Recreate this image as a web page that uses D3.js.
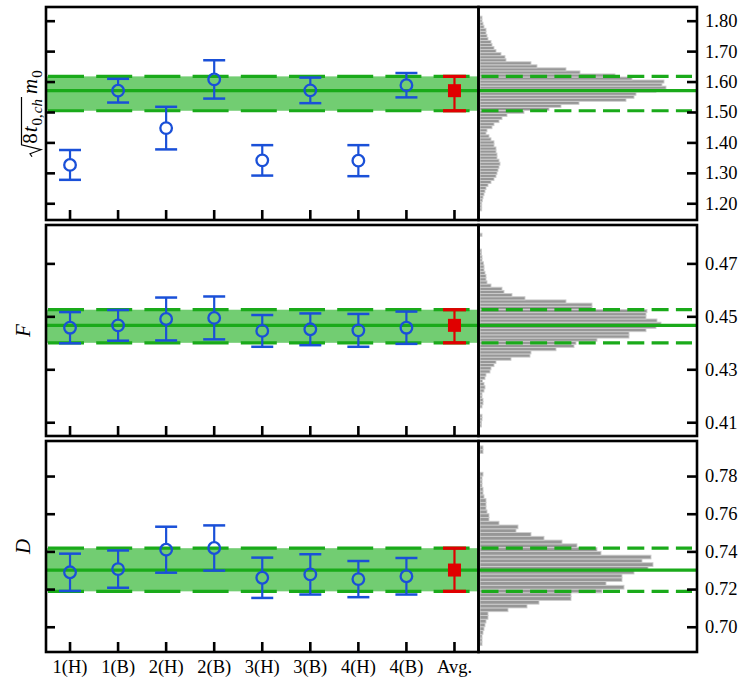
<!DOCTYPE html>
<html><head><meta charset="utf-8">
<script src="https://cdn.jsdelivr.net/npm/d3@7"></script>
<style>body{margin:0;background:#fff}svg{display:block}</style>
</head><body>
<svg id="chart" width="740" height="679"></svg>
<script>
// ---------- data ----------
const categories = ["1(H)","1(B)","2(H)","2(B)","3(H)","3(B)","4(H)","4(B)"];
const avgLabel = "Avg.";

// sqrt(8 t0,ch) m0
const m0Values = [1.326, 1.570, 1.447, 1.607, 1.341, 1.571, 1.340, 1.588];
const m0Errors = [0.049, 0.039, 0.070, 0.063, 0.050, 0.042, 0.051, 0.040];
const m0Avg = [1.570, 1.504, 1.617]; // central, lower, upper
const m0Ticks = [1.20, 1.30, 1.40, 1.50, 1.60, 1.70, 1.80];
const m0HistStart = 1.175, m0BinWidth = 0.01;
const m0Counts = [1.7,1.7,1.7,2.3,3,4,5,6,8,11,14,16,17,18,19,20,19,17,17,16,16,14,14,11,9,6,7,12,14,19,22,27,44,69,81,99,146,154,156,176,186,182,184,152,135,100,86,57,51,26,25,21,16,14,12,11,8,7,6,6,4,3,2,2];

// F
const FValues = [0.4457, 0.4466, 0.4490, 0.4494, 0.4445, 0.4451, 0.4447, 0.4457];
const FErrors = [0.0059, 0.0058, 0.0081, 0.0081, 0.0060, 0.0060, 0.0062, 0.0061];
const FAvg = [0.4466, 0.4400, 0.4525];
const FTicks = [0.41, 0.43, 0.45, 0.47];
const FHistStart = 0.4070, FBinWidth = 0.0012;
const FCounts = [0,1.5,1.5,2,2,0,0,2,3,3,2,2,4,5,4,2.5,5,6,10,11,14,16,31,50,51,76,94,96,117,149,149,166,176,181,177,166,166,167,112,112,86,45,32,24,22,11,7,6,6,5,4,4,3.5,2,2,1.5,1.5,0,0,0,0,2];

// D
const DValues = [0.7289, 0.7306, 0.7409, 0.7418, 0.7260, 0.7278, 0.7253, 0.7268];
const DErrors = [0.0099, 0.0099, 0.0122, 0.0120, 0.0107, 0.0107, 0.0096, 0.0097];
const DAvg = [0.7301, 0.7188, 0.7417];
const DTicks = [0.70, 0.72, 0.74, 0.76, 0.78];
const DHistStart = 0.688, DBinWidth = 0.002;
const DCounts = [0,2,2,2,3,4,5,6,8,8,28,47,59,91,91,122,144,126,142,142,154,168,173,162,171,121,117,97,82,64,51,36,38,19,9,9,7,6,6,6,4,3,3,2,2,2,3,0,0,0,0,0,3,3];

// ---------- layout ----------
const FONT = "'Liberation Serif', 'Times New Roman', serif";
const GREEN_FILL = "#72cd72", GREEN_LINE = "#1aaa1a", BLUE = "#1a50d8", RED = "#e00000";
const mainL = 46, mainR = 478.5, histR = 697;

const panels = [
  {values:m0Values, errors:m0Errors, avg:m0Avg, ticks:m0Ticks, histStart:m0HistStart, binW:m0BinWidth, counts:m0Counts, top:7, bottom:220, domain:[1.145, 1.845], label:"sqrt"},
  {values:FValues, errors:FErrors, avg:FAvg, ticks:FTicks, histStart:FHistStart, binW:FBinWidth, counts:FCounts, top:225, bottom:436, domain:[0.4048, 0.4845], label:"F"},
  {values:DValues, errors:DErrors, avg:DAvg, ticks:DTicks, histStart:DHistStart, binW:DBinWidth, counts:DCounts, top:441, bottom:652, domain:[0.6866, 0.7986], label:"D"}
];

const svg = d3.select("#chart");
const x = d3.scaleBand().domain([...categories, avgLabel]).range([mainL, mainR]).paddingInner(0).paddingOuter(0);
const cx = c => x(c) + x.bandwidth() / 2;
const hx = d3.scaleLinear().domain([0, 216]).range([480, 696]);

panels.forEach((p, pi) => {
  const y = d3.scaleLinear().domain(p.domain).range([p.bottom, p.top]);
  const g = svg.append("g");
  const clipId = "clip" + pi;
  svg.append("clipPath").attr("id", clipId).append("rect")
    .attr("x", mainL).attr("y", p.top).attr("width", histR - mainL).attr("height", p.bottom - p.top);
  const cg = g.append("g").attr("clip-path", `url(#${clipId})`);

  // histogram bars
  const bins = p.counts.map((c, i) => ({lo: p.histStart + i * p.binW, hi: p.histStart + (i + 1) * p.binW, c}));
  cg.selectAll("rect.hbar").data(bins.filter(b => b.c > 0)).join("rect")
    .attr("class", "hbar")
    .attr("x", hx(0))
    .attr("y", d => y(d.hi))
    .attr("width", d => hx(d.c) - hx(0))
    .attr("height", d => y(d.lo) - y(d.hi))
    .attr("fill", "#979797").attr("stroke", "#cdcdcd").attr("stroke-width", 0.9);

  // band
  const [avgC, avgLo, avgHi] = p.avg;
  cg.append("rect").attr("x", mainL).attr("width", mainR - mainL)
    .attr("y", y(avgHi)).attr("height", y(avgLo) - y(avgHi)).attr("fill", GREEN_FILL);
  [avgLo, avgHi].forEach(v => {
    cg.append("line").attr("x1", mainL + 2).attr("x2", mainR).attr("y1", y(v)).attr("y2", y(v))
      .attr("stroke", GREEN_LINE).attr("stroke-width", 3.2).attr("stroke-dasharray", "36,12.2");
    cg.append("line").attr("x1", 481.5).attr("x2", 692).attr("y1", y(v)).attr("y2", y(v))
      .attr("stroke", GREEN_LINE).attr("stroke-width", 3.2).attr("stroke-dasharray", "17,7.3");
  });
  cg.append("line").attr("x1", mainL).attr("x2", histR).attr("y1", y(avgC)).attr("y2", y(avgC))
    .attr("stroke", GREEN_LINE).attr("stroke-width", 3.3);

  // blue points
  const pts = categories.map((c, i) => ({c, v: p.values[i], e: p.errors[i]}));
  const r = 5.8;
  pts.forEach(d => {
    const px = cx(d.c), py = y(d.v), yt = y(d.v + d.e), yb = y(d.v - d.e);
    cg.append("line").attr("x1", px).attr("x2", px).attr("y1", yt).attr("y2", py - r)
      .attr("stroke", BLUE).attr("stroke-width", 2.2);
    cg.append("line").attr("x1", px).attr("x2", px).attr("y1", py + r).attr("y2", yb)
      .attr("stroke", BLUE).attr("stroke-width", 2.2);
    [yt, yb].forEach(yy => cg.append("line").attr("x1", px - 11).attr("x2", px + 11).attr("y1", yy).attr("y2", yy)
      .attr("stroke", BLUE).attr("stroke-width", 2.5));
    cg.append("circle").attr("cx", px).attr("cy", py).attr("r", r)
      .attr("fill", "none").attr("stroke", BLUE).attr("stroke-width", 2.3);
  });

  // red average
  const ax = cx(avgLabel);
  cg.append("line").attr("x1", ax).attr("x2", ax).attr("y1", y(avgHi)).attr("y2", y(avgLo))
    .attr("stroke", RED).attr("stroke-width", 2.2);
  [avgHi, avgLo].forEach(v => cg.append("line").attr("x1", ax - 11.5).attr("x2", ax + 11.5).attr("y1", y(v)).attr("y2", y(v))
    .attr("stroke", RED).attr("stroke-width", 3.3));
  cg.append("rect").attr("x", ax - 6.5).attr("y", y(avgC) - 6.5).attr("width", 13).attr("height", 13).attr("fill", RED);

  // axes
  const styleAxis = a => { a.select(".domain").remove(); a.selectAll(".tick line").attr("stroke", "#000").attr("stroke-width", 2.6); };
  g.append("g").attr("transform", `translate(${mainL},0)`)
    .call(d3.axisLeft(y).tickValues(p.ticks).tickSize(-9).tickFormat(""))
    .call(styleAxis);
  const ra = g.append("g").attr("transform", `translate(${histR},0)`)
    .call(d3.axisRight(y).tickValues(p.ticks).tickSize(-10).tickPadding(8).tickFormat(d3.format(".2f")))
    .call(styleAxis);
  ra.selectAll("text").attr("font-family", FONT).attr("font-size", 18.5).attr("fill", "#000");
  const ba = g.append("g").attr("transform", `translate(0,${p.bottom})`)
    .call(d3.axisBottom(x).tickSize(-10).tickPadding(8).tickFormat(pi === 2 ? (d => d) : ""))
    .call(styleAxis);
  ba.selectAll("text").attr("font-family", FONT).attr("font-size", 18.5).attr("fill", "#000");

  // frames
  g.append("rect").attr("x", mainL).attr("y", p.top).attr("width", mainR - mainL).attr("height", p.bottom - p.top)
    .attr("fill", "none").attr("stroke", "#000").attr("stroke-width", 2.6);
  g.append("rect").attr("x", mainR).attr("y", p.top).attr("width", histR - mainR).attr("height", p.bottom - p.top)
    .attr("fill", "none").attr("stroke", "#000").attr("stroke-width", 2.6);

  // y label
  const cy = (p.top + p.bottom) / 2;
  if (p.label === "sqrt") {
    const lg = svg.append("g").attr("transform", `translate(37,${cy}) rotate(-90)`);
    const inner = lg.append("g");
    const fs = 21, sfs = 15;
    let pos = 13;
    const add = (txt, opts) => {
      const t = inner.append("text").attr("x", pos).attr("y", opts.y || 0)
        .attr("font-family", FONT).attr("font-size", opts.fs || fs)
        .attr("font-style", opts.it ? "italic" : "normal").text(txt);
      pos += t.node().getComputedTextLength() + (opts.gap || 0);
      return t;
    };
    add("8", {gap: 1});
    add("t", {it: true, gap: 1});
    add("0,", {fs: sfs, y: 4.5, gap: 1});
    add("ch", {fs: sfs, y: 4.5, it: true, gap: 2});
    const overEnd = pos;
    inner.append("path")
      .attr("d", `M0,-5 L3,-7 L7,4 L12,-15.5 L${overEnd},-15.5`)
      .attr("fill", "none").attr("stroke", "#000").attr("stroke-width", 1.2);
    pos += 3;
    add("m", {it: true, gap: 1});
    add("0", {fs: sfs, y: 4.5});
    inner.attr("transform", `translate(${-pos / 2},0)`);
  } else {
    svg.append("text").attr("transform", `translate(30,${cy}) rotate(-90)`)
      .attr("text-anchor", "middle").attr("font-family", FONT).attr("font-size", 21)
      .attr("font-style", "italic").text(p.label);
  }
});
</script>
</body></html>
